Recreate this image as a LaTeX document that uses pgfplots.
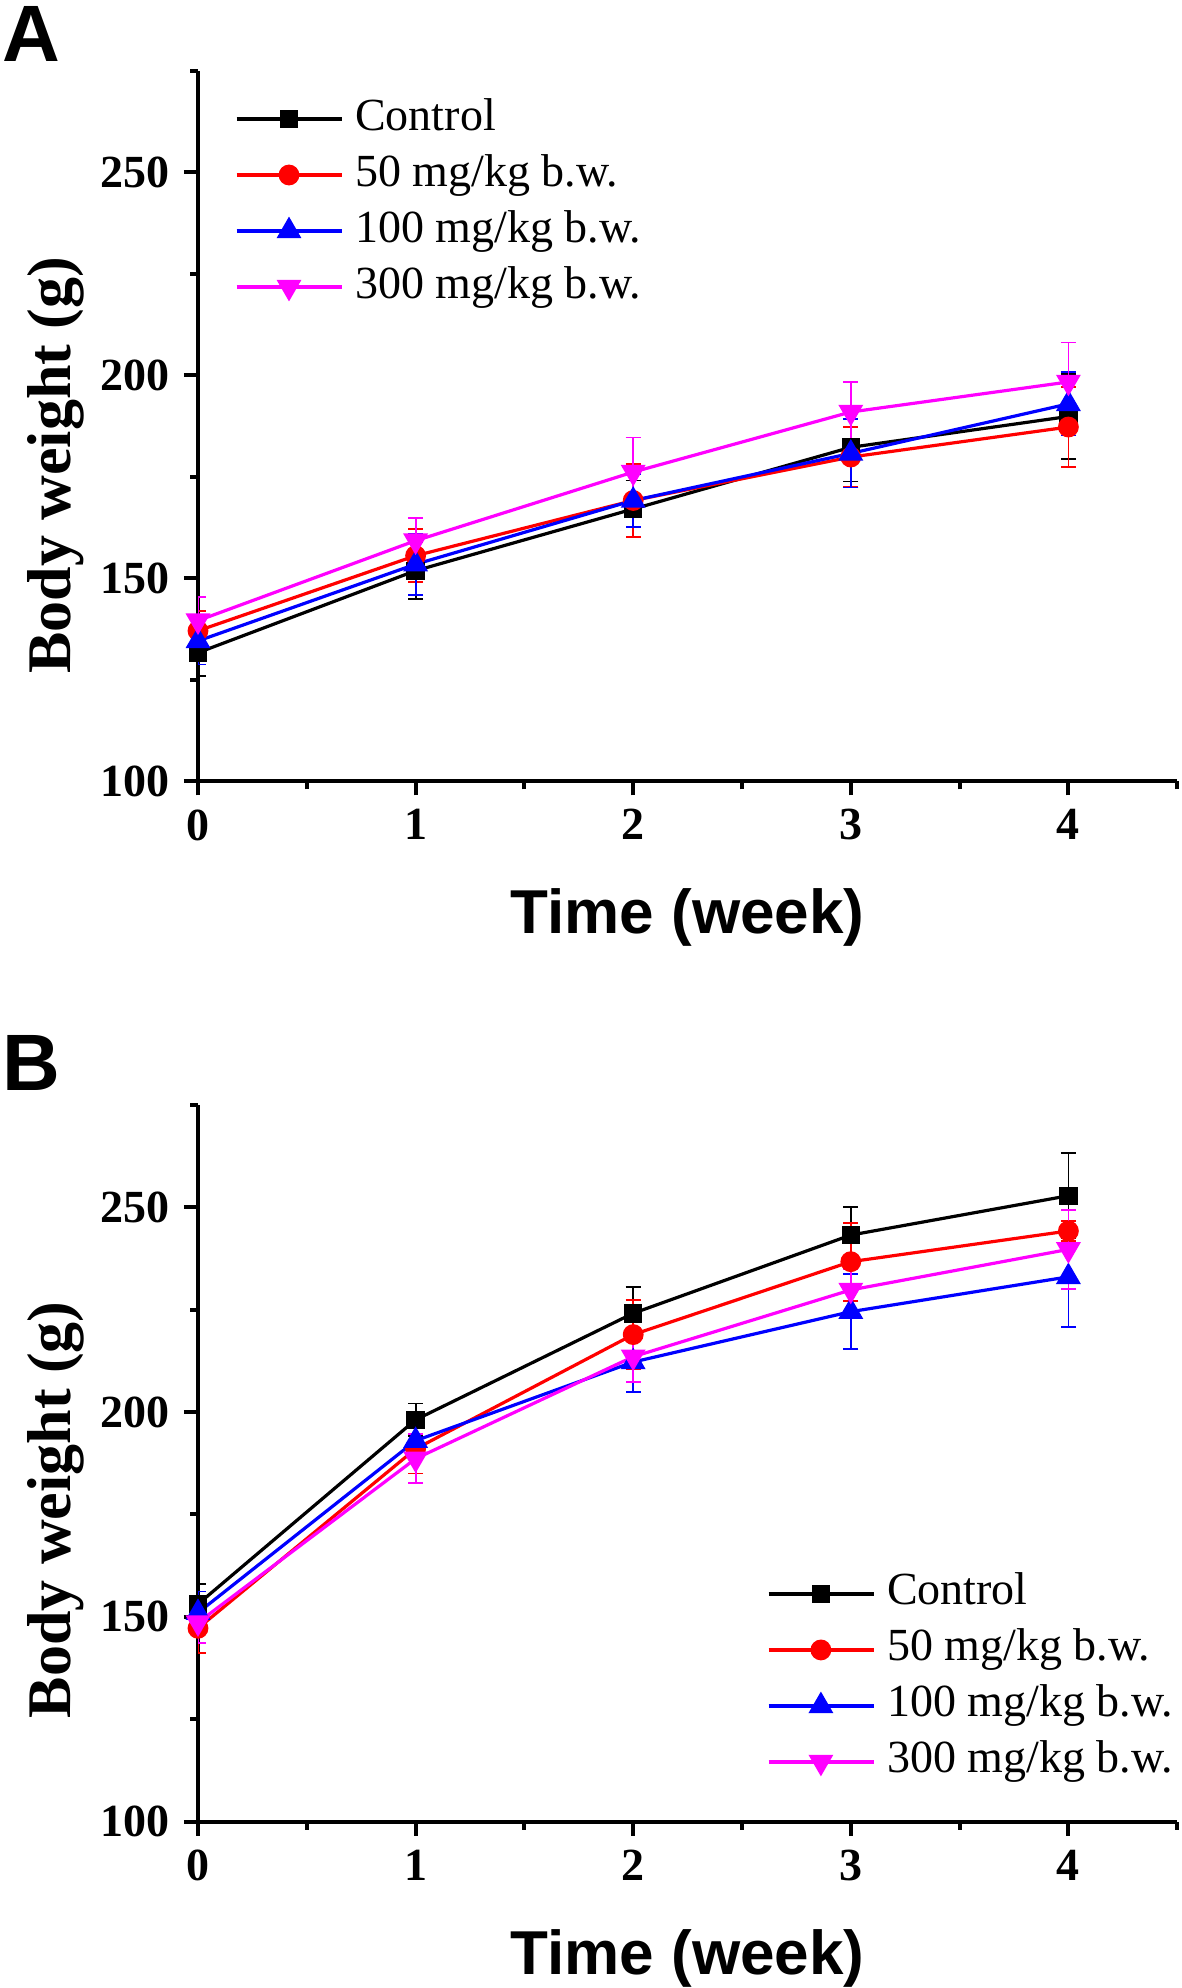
\documentclass[border=0pt]{standalone}
\usepackage{pgfplots}
\pgfplotsset{compat=1.18}
\usepackage{fontspec}
\setmainfont{Liberation Serif}
\setsansfont{Liberation Sans}
\definecolor{pmag}{RGB}{255,0,255}
\definecolor{pred}{RGB}{255,0,0}
\definecolor{pblue}{RGB}{0,0,255}

\pgfplotsset{
  bwaxis/.style={
    scale only axis,
    width=244.8pt,
    xmin=0, xmax=4.5, ymin=100, ymax=275,
    axis x line*=bottom, axis y line*=left,
    axis line style={line width=1pt,-},
    xtick={0,1,2,3,4}, minor xtick={0.5,1.5,2.5,3.5,4.5},
    ytick={100,150,200,250}, minor ytick={125,175,225,275},
    tick align=outside,
    major tick length=3.5pt, minor tick length=2pt,
    every tick/.style={line width=1pt,black},
    /pgf/number format/assume math mode=true,
    tick label style={font=\fontsize{11.5}{13}\selectfont\bfseries},
    xlabel={Time (week)},
    ylabel={Body weight (g)},
    xlabel style={font=\sffamily\bfseries\fontsize{15.5}{18}\selectfont, anchor=base},
    ylabel style={font=\bfseries\fontsize{15.5}{18}\selectfont, anchor=base},
    legend style={draw=none, fill=none, inner sep=0pt, outer sep=0pt,
      row sep=2.5pt, column sep=3pt, anchor=north west,
      font=\fontsize{11.5}{13}\selectfont,
      nodes={inner sep=0pt, text height=8.5pt, text depth=3pt},
      cells={anchor=west}},
    legend image code/.code={
      \draw[mark repeat=2, mark phase=2, #1] plot coordinates {(0pt,0pt) (13.1pt,0pt) (26.25pt,0pt)};
    },
    error bars/y dir=both,
    error bars/y explicit,
    error bars/error bar style={line width=0.45pt},
    error bars/error mark options={line width=0.45pt, mark size=1.9pt, rotate=90},
  },
  sCtl/.style={black, line width=0.8pt, mark=square*, mark size=1.9pt, mark options={solid, fill=black}},
  s50/.style={pred, line width=0.8pt, mark=*, mark size=2.2pt, mark options={solid, fill=pred}},
  s100/.style={pblue, line width=0.8pt, mark=triangle*, mark size=2.8pt, mark options={solid, fill=pblue}},
  s300/.style={pmag, line width=0.8pt, mark=triangle*, mark size=2.8pt, mark options={solid, fill=pmag, rotate=180}},
}

\pgfplotstableread{
x y e
0 131.7 5.8
1 151.9 7.0
2 167.1 7.0
3 182.3 8.4
4 189.9 10.5
}\actl
\pgfplotstableread{
x y e
0 137.1 4.9
1 155.6 6.5
2 169.2 9.0
3 179.9 7.4
4 187.3 9.9
}\afifty
\pgfplotstableread{
x y e
0 134.6 5.8
1 153.5 7.5
2 169.2 6.5
3 180.8 8.4
4 193.0 7.8
}\ahundred
\pgfplotstableread{
x y e
0 139.6 5.9
1 159.3 5.5
2 176.2 8.5
3 191.0 7.4
4 198.4 9.7
}\athree

\pgfplotstableread{
x y e
0 153.1 5.0
1 198.1 4.0
2 224.1 6.5
3 243.2 6.8
4 252.8 10.4
}\bctl
\pgfplotstableread{
x y e
0 147.2 6.0
1 191.0 6.0
2 218.9 8.4
3 236.7 9.5
4 244.2 2.5
}\bfifty
\pgfplotstableread{
x y e
0 151.0 5.2
1 193.0 4.5
2 212.2 7.3
3 224.5 9.2
4 233.0 12.2
}\bhundred
\pgfplotstableread{
x y e
0 148.6 5.0
1 188.6 6.0
2 213.5 6.2
3 229.8 5.0
4 239.7 9.6
}\bthree

\begin{document}
\begin{tikzpicture}
\begin{axis}[bwaxis,
  at={(49.5pt,-195.35pt)}, anchor=south west, height=177.6pt,
  xlabel style={at={(axis description cs:0.5,-0.2148)}},
  ylabel style={at={(axis description cs:-0.1307,0.445)}},
  legend style={at={(0.0378,0.9648)}}]
\addplot[sCtl] table[x=x,y=y,y error=e] {\actl};
\addlegendentry{Control}
\addplot[s50] table[x=x,y=y,y error=e] {\afifty};
\addlegendentry{50 mg/kg b.w.}
\addplot[s100] table[x=x,y=y,y error=e] {\ahundred};
\addlegendentry{100 mg/kg b.w.}
\addplot[s300] table[x=x,y=y,y error=e] {\athree};
\addlegendentry{300 mg/kg b.w.}
\end{axis}

\begin{axis}[bwaxis,
  at={(49.5pt,-455.4pt)}, anchor=south west, height=179.2pt,
  xlabel style={at={(axis description cs:0.5,-0.2133)}},
  ylabel style={at={(axis description cs:-0.1307,0.435)}},
  legend style={at={(0.581,0.3497)}}]
\addplot[sCtl] table[x=x,y=y,y error=e] {\bctl};
\addlegendentry{Control}
\addplot[s50] table[x=x,y=y,y error=e] {\bfifty};
\addlegendentry{50 mg/kg b.w.}
\addplot[s100] table[x=x,y=y,y error=e] {\bhundred};
\addlegendentry{100 mg/kg b.w.}
\addplot[s300] table[x=x,y=y,y error=e] {\bthree};
\addlegendentry{300 mg/kg b.w.}
\end{axis}

\node[font=\sffamily\bfseries\fontsize{20}{24}\selectfont, anchor=base west, inner sep=0pt] at (0.4pt,-15.4pt) {A};
\node[font=\sffamily\bfseries\fontsize{20}{24}\selectfont, anchor=base west, inner sep=0pt] at (0.4pt,-272.5pt) {B};

\pgfresetboundingbox
\path (0pt,0pt) rectangle (295.25pt,-497pt);
\end{tikzpicture}
\end{document}
